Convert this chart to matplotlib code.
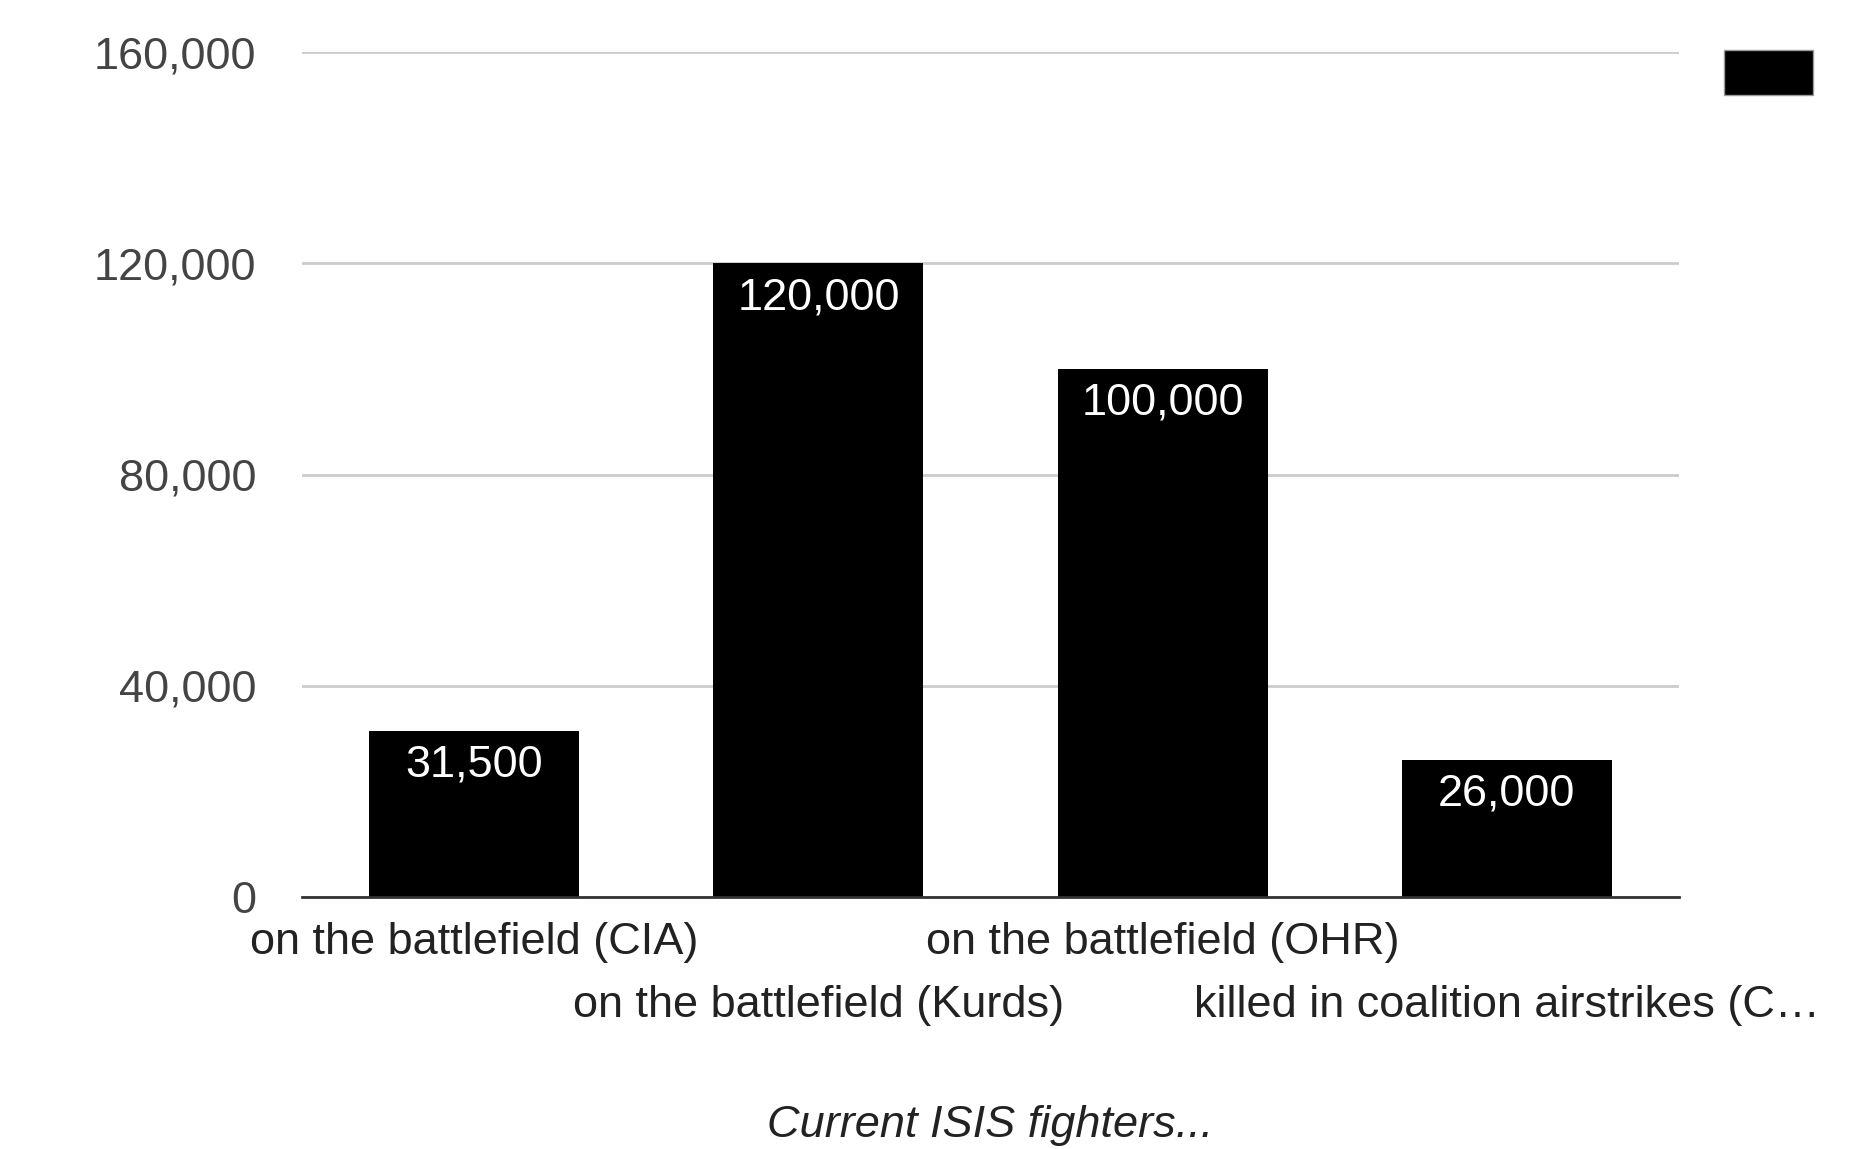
import matplotlib.pyplot as plt
from matplotlib.patches import Rectangle

categories = ['on the battlefield (CIA)', 'on the battlefield (Kurds)',
              'on the battlefield (OHR)', 'killed in coalition airstrikes (C\u2026']
values = [31500, 120000, 100000, 26000]
value_labels = ['31,500', '120,000', '100,000', '26,000']
yticks = [0, 40000, 80000, 120000, 160000]
ytick_labels = ['0', '40,000', '80,000', '120,000', '160,000']
title = 'Current ISIS fighters...'

plt.rcParams['font.family'] = ['Liberation Sans', 'DejaVu Sans']
fs = 32.5

fig = plt.figure(figsize=(18.51, 11.49), dpi=100)
ax = fig.add_axes([0.1632, 0.2193, 0.9071 - 0.1632, 0.9547 - 0.2193])

x = list(range(len(categories)))
bars = ax.bar(x, values, width=0.61, color='black', zorder=3)
for b, lab in zip(bars, value_labels):
    ax.annotate(lab, (b.get_x() + b.get_width() / 2, b.get_height()),
                xytext=(0, -10), textcoords='offset points',
                ha='center', va='top', color='white', fontsize=fs, zorder=4)

ax.set_xlim(-0.5, len(categories) - 0.5)
ax.set_ylim(0, 160000)
ax.set_yticks(yticks)
ax.set_yticklabels(ytick_labels)
ax.grid(axis='y', color='#cccccc', linewidth=2, zorder=0)
for s in ['top', 'right', 'left']:
    ax.spines[s].set_visible(False)
ax.spines['bottom'].set_color('#333333')
ax.spines['bottom'].set_linewidth(2)
ax.spines['bottom'].set_zorder(5)

# staggered category labels: even ones on the first row, odd ones below
ax.set_xticks(x[0::2])
ax.set_xticklabels(categories[0::2])
ax.set_xticks(x[1::2], minor=True)
ax.set_xticklabels(categories[1::2], minor=True)
ax.tick_params(axis='y', length=0, pad=33, labelsize=fs, labelcolor='#444444')
ax.tick_params(axis='x', which='major', length=0, pad=18, labelsize=fs, labelcolor='#222222')
ax.tick_params(axis='x', which='minor', length=0, pad=63, labelsize=fs, labelcolor='#222222')

fig.text(0.535, 1 - 1125 / 1149, title, ha='center', va='center',
         fontsize=fs, style='italic', color='#222222')

# legend swatch (no text)
fig.patches.append(Rectangle((1724 / 1851, 1 - 95 / 1149), 89 / 1851, 45 / 1149,
                             transform=fig.transFigure, facecolor='black',
                             edgecolor='#999999', linewidth=1))

fig.savefig('out.png', dpi=100, facecolor='white')
